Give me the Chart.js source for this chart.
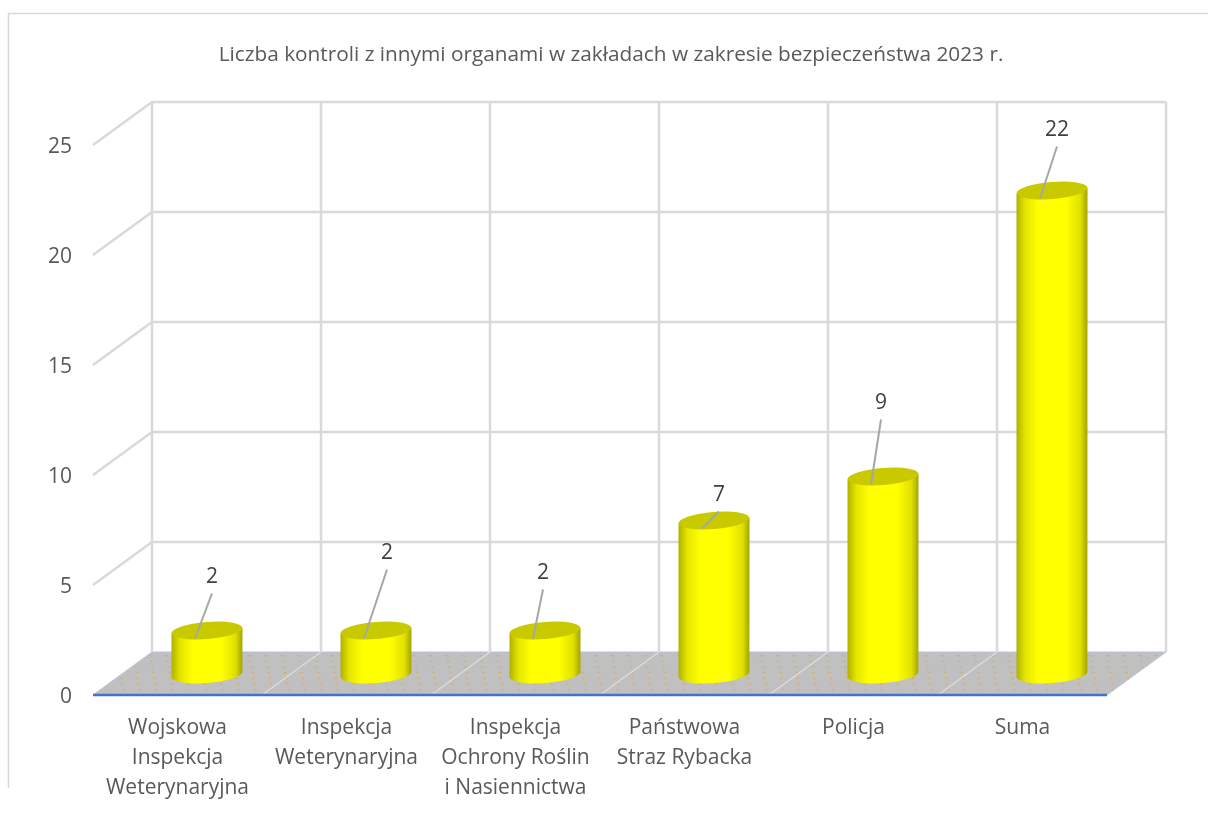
<!DOCTYPE html>
<html lang="pl">
<head>
<meta charset="utf-8">
<title>Liczba kontroli</title>
<script src="https://cdn.jsdelivr.net/npm/chart.js@4"></script>
<style>
    html, body { margin: 0; padding: 0; background: #fff; overflow: hidden; }
    #wrap { width: 1208px; height: 814px; }
</style>
</head>
<body>
<div id="wrap"><canvas id="chart" width="1208" height="814"></canvas></div>
<script>
const categories = [
    ["Wojskowa", "Inspekcja", "Weterynaryjna"],
    ["Inspekcja", "Weterynaryjna"],
    ["Inspekcja", "Ochrony Roślin", "i Nasiennictwa"],
    ["Państwowa", "Straz Rybacka"],
    ["Policja"],
    ["Suma"],
];
const values = [2, 2, 2, 7, 9, 22];
const yTicks = [0, 5, 10, 15, 20, 25];
const titleText = "Liczba kontroli z innymi organami w zakładach w zakresie bezpieczeństwa 2023 r.";

// where the label of each bar sits, relative to the centre of its cap
const labelOffsets = [[5, -55], [11, -79], [-2, -59], [5, -27], [-2, -75], [5, -62]];

const FONT = '"Open Sans", sans-serif';
const DEPTH_X = 59;
const DEPTH_Y = 43;
const GRID = "#d9d9d9";

// back wall, side wall, floor and the outer frame
const wallsPlugin = {
    id: "walls",
    beforeDatasetsDraw(chart) {
        const { ctx, chartArea: area, scales } = chart;
        const left = area.left, right = area.right;
        const base = scales.y.getPixelForValue(0);

        ctx.save();
        ctx.strokeStyle = GRID;
        ctx.lineWidth = 1.5;
        ctx.beginPath();
        ctx.moveTo(8.5, 788);
        ctx.lineTo(8.5, 13.5);
        ctx.lineTo(1208, 13.5);
        ctx.stroke();

        // floor
        ctx.beginPath();
        ctx.moveTo(left, base);
        ctx.lineTo(left + DEPTH_X, base - DEPTH_Y);
        ctx.lineTo(right + DEPTH_X, base - DEPTH_Y);
        ctx.lineTo(right, base);
        ctx.closePath();
        ctx.fillStyle = "#c0c0c0";
        ctx.fill();
        ctx.strokeStyle = "#b4c4de";
        ctx.lineWidth = 1;
        ctx.stroke();

        ctx.save();
        ctx.clip();
        ctx.fillStyle = "rgba(217, 169, 76, 0.75)";
        for (let row = 0; row < 8; row++) {
            const y = base - DEPTH_Y + 3 + row * 5.7;
            for (let x = left - 10; x < right + DEPTH_X; x += 16.5) {
                ctx.fillRect(x + row * 1, y, 2.5, 1.2);
            }
        }
        ctx.restore();

        // walls
        ctx.strokeStyle = GRID;
        ctx.lineWidth = 2.5;
        yTicks.forEach((t) => {
            const y = scales.y.getPixelForValue(t);
            if (t > 0) {
                ctx.beginPath();
                ctx.moveTo(left, y);
                ctx.lineTo(left + DEPTH_X, y - DEPTH_Y);
                ctx.lineTo(right + DEPTH_X, y - DEPTH_Y);
                ctx.stroke();
            }
        });
        const step = (right - left) / categories.length;
        for (let i = 0; i <= categories.length; i++) {
            const x = left + i * step + DEPTH_X;
            ctx.lineWidth = 2.5;
            ctx.strokeStyle = GRID;
            ctx.beginPath();
            ctx.moveTo(x, scales.y.getPixelForValue(25) - DEPTH_Y);
            ctx.lineTo(x, base - DEPTH_Y);
            ctx.stroke();
            if (i > 0 && i < categories.length) {
                ctx.lineWidth = 1.5;
                ctx.strokeStyle = "#dcdcdc";
                ctx.beginPath();
                ctx.moveTo(x, base - DEPTH_Y);
                ctx.lineTo(x - DEPTH_X, base);
                ctx.stroke();
            }
        }

        ctx.strokeStyle = "#4472c4";
        ctx.lineWidth = 2.5;
        ctx.beginPath();
        ctx.moveTo(left, base);
        ctx.lineTo(right, base);
        ctx.stroke();
        ctx.restore();
    },
};

// turns each library bar into a cylinder standing in the middle of the floor
const cylinderPlugin = {
    id: "cylinders",
    afterDatasetsDraw(chart) {
        const { ctx } = chart;
        const tilt = -0.08;
        const ry = 8.5;
        chart.getDatasetMeta(0).data.forEach((bar, i) => {
            const cx = bar.x + DEPTH_X / 2;
            const top = bar.y - DEPTH_Y / 2 + 1;
            const bottom = bar.base - DEPTH_Y / 2 + 1;
            const rx = bar.width / 2;
            const sin = Math.sin(tilt) * rx;

            const shade = ctx.createLinearGradient(cx - rx, 0, cx + rx, 0);
            shade.addColorStop(0, "#b0b000");
            shade.addColorStop(0.12, "#e4e400");
            shade.addColorStop(0.3, "#ffff00");
            shade.addColorStop(0.7, "#ffff00");
            shade.addColorStop(0.9, "#e0e000");
            shade.addColorStop(1, "#a4a400");

            ctx.save();
            ctx.beginPath();
            ctx.moveTo(cx - rx, top - sin);
            ctx.lineTo(cx - rx, bottom - sin);
            ctx.ellipse(cx, bottom, rx, ry, tilt, Math.PI, 0, true);
            ctx.lineTo(cx + rx, top + sin);
            ctx.closePath();
            ctx.fillStyle = shade;
            ctx.fill();

            ctx.beginPath();
            ctx.ellipse(cx, top, rx, ry, tilt, 0, Math.PI * 2);
            ctx.fillStyle = "#c9c900";
            ctx.fill();

            // leader line and value
            const [dx, dy] = labelOffsets[i];
            ctx.strokeStyle = "#a6a6a6";
            ctx.lineWidth = 2;
            ctx.beginPath();
            ctx.moveTo(cx + dx, top + dy + 18);
            ctx.lineTo(cx - 12, top + 8);
            ctx.stroke();

            ctx.fillStyle = "#404040";
            ctx.font = "21px " + FONT;
            ctx.textAlign = "center";
            ctx.textBaseline = "middle";
            ctx.fillText(String(values[i]), cx + dx, top + dy + 2);
            ctx.restore();
        });
    },
};

new Chart(document.getElementById("chart"), {
    type: "bar",
    data: {
        labels: categories,
        datasets: [
            {
                data: values,
                backgroundColor: "rgba(0, 0, 0, 0)",
                borderWidth: 0,
                barPercentage: 0.42,
                categoryPercentage: 1,
            },
        ],
    },
    options: {
        responsive: false,
        animation: false,
        layout: { padding: { left: 14, right: 0, top: 0, bottom: 0 } },
        plugins: {
            legend: { display: false },
            tooltip: { enabled: false },
            title: {
                display: true,
                text: titleText,
                color: "#595959",
                font: { family: FONT, size: 20.8, weight: "normal" },
                padding: { top: 43, bottom: 77 },
            },
        },
        scales: {
            x: {
                grid: { display: false },
                border: { display: false },
                afterFit(scale) {
                    scale.height = 119;
                },
                ticks: {
                    autoSkip: false,
                    maxRotation: 0,
                    minRotation: 0,
                    padding: 10,
                    color: "#595959",
                    font: { family: FONT, size: 21, lineHeight: 1.43 },
                },
            },
            y: {
                min: 0,
                max: 25,
                grid: { display: false },
                border: { display: false },
                afterFit(scale) {
                    scale.width = 79;
                },
                afterBuildTicks(scale) {
                    scale.ticks = yTicks.map((value) => ({ value }));
                },
                ticks: {
                    padding: 13,
                    color: "#595959",
                    font: { family: FONT, size: 21, lineHeight: "5px" },
                    // blank first line nudges the number down to sit on its tick
                    callback: (value) => ["", String(value)],
                },
            },
            // empty axis, only keeps the right margin out of the title's centring
            spare: {
                type: "linear",
                position: "right",
                grid: { display: false },
                border: { display: false },
                ticks: { display: false },
                afterFit(scale) {
                    scale.width = 101;
                },
            },
        },
    },
    plugins: [wallsPlugin, cylinderPlugin],
});
</script>
</body>
</html>
